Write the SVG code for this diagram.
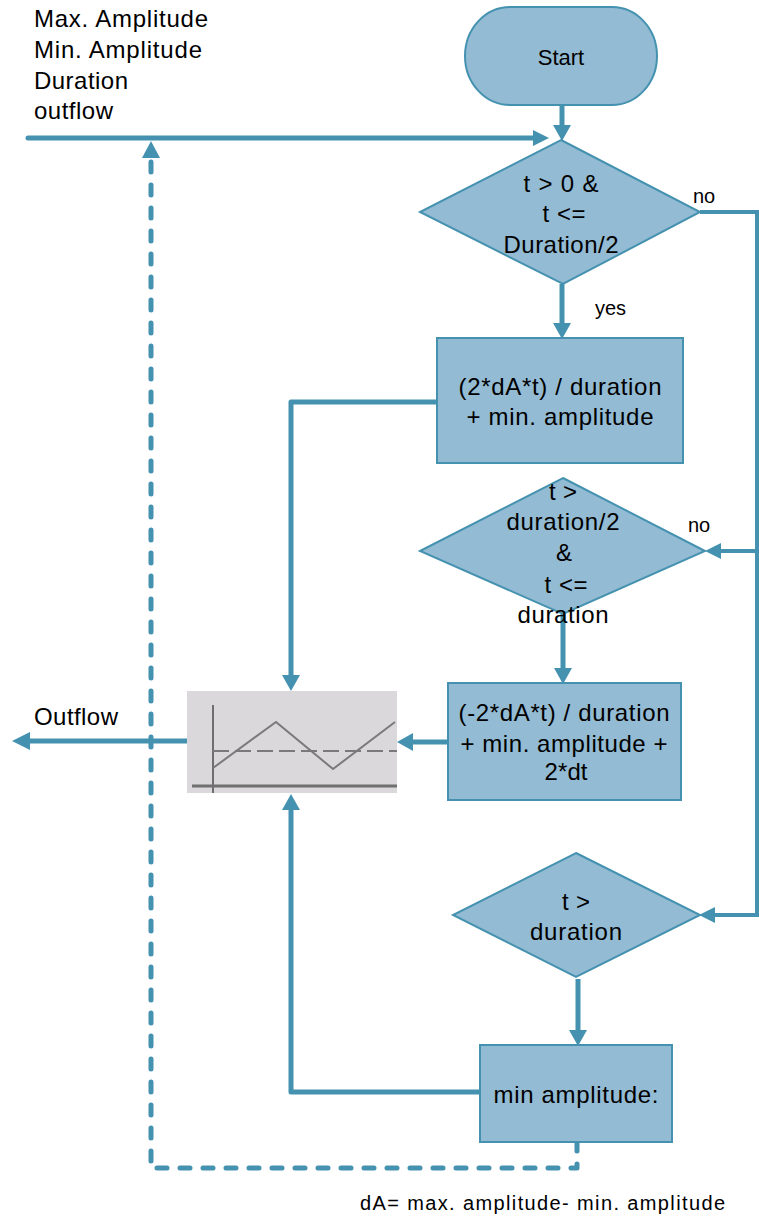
<svg xmlns="http://www.w3.org/2000/svg" width="759" height="1218" viewBox="0 0 759 1218">
<defs>
<style>
.node{fill:#93BBD3;stroke:#4592B0;stroke-width:2}
.t{font-family:"Liberation Sans",Arial,sans-serif;font-size:24px;fill:#000;text-anchor:middle}
.tl{font-family:"Liberation Sans",Arial,sans-serif;font-size:24px;fill:#000}
.s{font-family:"Liberation Sans",Arial,sans-serif;font-size:20px;fill:#000}
.c{fill:none;stroke:#4592B0;stroke-width:5;stroke-linejoin:round}
.thin{fill:none;stroke:#4592B0;stroke-width:4}
.d{fill:none;stroke:#4592B0;stroke-width:5;stroke-dasharray:10 13;stroke-linecap:round;stroke-linejoin:round}
.ah{fill:#4592B0}
</style>
</defs>
<rect width="759" height="1218" fill="#fff"/>
<g id="inputs">
<text class="tl" x="34" y="27" textLength="174" lengthAdjust="spacing">Max. Amplitude</text>
<text class="tl" x="34" y="58" textLength="168" lengthAdjust="spacing">Min. Amplitude</text>
<text class="tl" x="34" y="89" textLength="94" lengthAdjust="spacing">Duration</text>
<text class="tl" x="34" y="119" textLength="79" lengthAdjust="spacing">outflow</text>
</g>
<g id="connectors">
<path class="c" d="M28,138 H536" stroke-linecap="round"/>
<polygon class="ah" points="549,138 533,130 533,146"/>
<path class="c" d="M562,105 V126"/>
<polygon class="ah" points="562,141 553,125 571,125"/>
<path class="c" d="M562,284 V324"/>
<polygon class="ah" points="562,339 553,323 571,323"/>
<path class="thin" d="M700,212 H757 V915 H714"/>
<path class="thin" d="M757,551 H718"/>
<polygon class="ah" points="705,551 721,543 721,559"/>
<polygon class="ah" points="699,915 715,907 715,923"/>
<path class="c" d="M563,614 V669"/>
<polygon class="ah" points="563,684 554,668 572,668"/>
<path class="c" d="M578,979 V1031"/>
<polygon class="ah" points="578,1046 569,1030 587,1030"/>
<path class="c" d="M437,402 H291 V676"/>
<polygon class="ah" points="291,691 282,675 300,675"/>
<path class="c" d="M448,742 H411"/>
<polygon class="ah" points="397,742 413,733 413,751"/>
<path class="c" d="M480,1092 H291 V809"/>
<polygon class="ah" points="291,794 282,810 300,810"/>
<path class="c" d="M193,741 H26" stroke-linecap="round"/>
<polygon class="ah" points="12,741 30,732 30,750"/>
<path class="d" d="M577,1141 V1168 H151 V160"/>
<polygon class="ah" points="151,141 142,158 160,158"/>
</g>
<g id="start">
<rect class="node" x="465" y="7" width="192" height="98" rx="45" ry="49"/>
<text class="t" x="561" y="65" style="font-size:22px">Start</text>
</g>
<g id="decision1">
<polygon class="node" points="561,140 700,212 563,284 420,212"/>
<text class="t" x="561" y="192" textLength="75" lengthAdjust="spacing">t &gt; 0 &amp;</text>
<text class="t" x="564" y="222" textLength="43" lengthAdjust="spacing">t &lt;=</text>
<text class="t" x="561" y="253" textLength="115" lengthAdjust="spacing">Duration/2</text>
<text class="s" x="693" y="203">no</text>
<text class="s" x="595" y="315">yes</text>
</g>
<g id="process1">
<rect class="node" x="437" y="338" width="246" height="125"/>
<text class="t" x="560" y="395" textLength="203" lengthAdjust="spacing">(2*dA*t) / duration</text>
<text class="t" x="560" y="425" textLength="187" lengthAdjust="spacing">+ min. amplitude</text>
</g>
<g id="decision2">
<polygon class="node" points="563,478 705,551 563,614 420,551"/>
<text class="t" x="563" y="500" textLength="28" lengthAdjust="spacing">t &gt;</text>
<text class="t" x="563" y="530" textLength="113" lengthAdjust="spacing">duration/2</text>
<text class="t" x="564" y="561">&amp;</text>
<text class="t" x="566" y="593" textLength="43" lengthAdjust="spacing">t &lt;=</text>
<text class="t" x="563" y="623" textLength="91" lengthAdjust="spacing">duration</text>
<text class="s" x="688" y="532">no</text>
</g>
<g id="process2">
<rect class="node" x="448" y="683" width="233" height="117"/>
<text class="t" x="564" y="721" textLength="211" lengthAdjust="spacing">(-2*dA*t) / duration</text>
<text class="t" x="564" y="752" textLength="207" lengthAdjust="spacing">+ min. amplitude +</text>
<text class="t" x="566" y="780" textLength="43" lengthAdjust="spacing">2*dt</text>
</g>
<g id="chart">
<rect x="187" y="691" width="210" height="102" fill="#DAD8DA"/>
<line x1="213" y1="705" x2="213" y2="793" stroke="#6E6E6E" stroke-width="2"/>
<line x1="192" y1="786" x2="397" y2="786" stroke="#707070" stroke-width="3"/>
<line x1="213" y1="751" x2="397" y2="751" stroke="#7A7A7A" stroke-width="2" stroke-dasharray="16 6"/>
<polyline points="213,768 276,722 333,769 395,722" fill="none" stroke="#7A7A7A" stroke-width="2"/>
</g>
<g id="outflow">
<text class="tl" x="34" y="725" textLength="84" lengthAdjust="spacing">Outflow</text>
</g>
<g id="decision3">
<polygon class="node" points="576,853 700,915 576,977 453,915"/>
<text class="t" x="576" y="910" textLength="28" lengthAdjust="spacing">t &gt;</text>
<text class="t" x="576" y="940" textLength="92" lengthAdjust="spacing">duration</text>
</g>
<g id="process3">
<rect class="node" x="480" y="1045" width="192" height="97"/>
<text class="t" x="576" y="1103" textLength="165" lengthAdjust="spacing">min amplitude:</text>
</g>
<g id="footnote">
<text class="s" x="360" y="1210" textLength="365" lengthAdjust="spacing">dA= max. amplitude- min. amplitude</text>
</g>
</svg>
